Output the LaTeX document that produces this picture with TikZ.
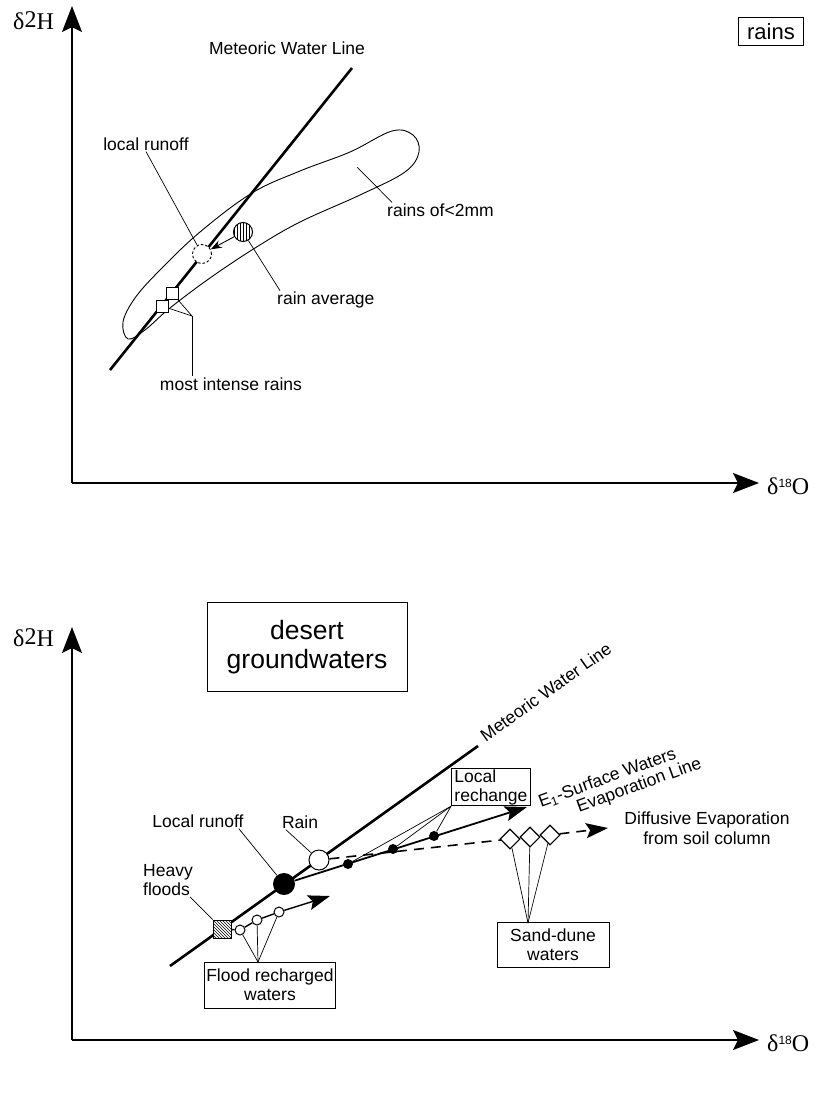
\documentclass[tikz,border=0pt]{standalone}
\usepackage{fontspec}
\setmainfont{Liberation Sans}
\newfontfamily\serifgreek{Liberation Serif}
\usetikzlibrary{arrows.meta,patterns,shapes.geometric}

\tikzset{
  axis/.style={line width=1.8pt, -{Stealth[length=26pt,width=20pt,inset=5pt]}},
  mwl/.style={line width=2.6pt},
  leader/.style={line width=0.7pt},
  lbl/.style={font=\fontsize{17.5}{19}\selectfont, inner sep=1pt},
  tag/.style={draw, line width=0.9pt, font=\fontsize{17.5}{19}\selectfont, align=center, inner sep=2pt},
  blackdot/.style={circle, fill=black, minimum size=10pt, inner sep=0pt},
  opendot/.style={circle, draw, line width=1pt, fill=white, minimum size=10pt, inner sep=0pt},
  dunemark/.style={diamond, draw, line width=1.1pt, fill=white, minimum size=20pt, inner sep=0pt},
  rainsq/.style={rectangle, draw, line width=1pt, fill=white, minimum size=12pt, inner sep=0pt},
  evap/.style={line width=1.8pt, -{Stealth[length=22pt,width=15pt,inset=4pt]}},
}

\begin{document}
\begin{tikzpicture}[x=1pt, y=-1pt]
\useasboundingbox (0,0) rectangle (823,1097);

% upper panel: rains
\coordinate (o1) at (72,483);
\coordinate (ytip1) at (72,6);
\coordinate (xtip1) at (759,483);
\draw[axis] (o1) -- (ytip1);
\draw[axis] (o1) -- (xtip1);
\node[anchor=west, inner sep=0pt, font=\fontsize{24}{24}\serifgreek] (dH1) at (13,21) {δ\raisebox{2pt}{2}H};
\node[anchor=west, inner sep=0pt, font=\fontsize{24}{24}\serifgreek] (dO1) at (767,486) {δ\raisebox{7pt}{\fontsize{12}{12}\sffamily\bfseries\setmainfont{Liberation Sans}18}O};
\node[draw, line width=1pt, font=\fontsize{22}{22}\selectfont, inner xsep=9pt, minimum height=28pt] (rainsBox) at (771,32) {rains};

\draw[line width=0.9pt] plot[smooth cycle, tension=0.6] coordinates {(128,339) (123,322) (135,298) (160,270) (200,232) (252,193) (300,171) (350,152) (392,131) (413,135) (419,152) (405,172) (360,195) (300,222) (255,248) (210,278) (170,308) (145,330)};

\coordinate (mwl1a) at (110,370);
\coordinate (mwl1b) at (352,68);
\draw[mwl] (mwl1a) -- (mwl1b);
\node[lbl] (mwlLbl1) at (287,48) {Meteoric Water Line};

\node[rainsq] (sq1) at (172,293) {};
\node[rainsq] (sq2) at (162,306) {};
\node[circle, draw, fill=white, line width=0.9pt, dash pattern=on 2.5pt off 2pt, minimum size=19pt, inner sep=0pt] (runoff1) at (202,254) {};
\node[circle, draw, line width=1pt, minimum size=19pt, inner sep=0pt, pattern=vertical lines, preaction={fill=white}] (ravg) at (243,232) {};
\draw[line width=0.9pt, -{Stealth[length=11pt,width=8pt]}] (ravg) -- (runoff1);

\node[lbl] (runoffLbl1) at (146,144) {local runoff};
\draw[leader] (runoffLbl1.south) -- (runoff1);
\node[lbl, anchor=west] (avgLbl) at (276,300) {rain average};
\draw[leader] (ravg) -- ([xshift=4pt]avgLbl.north west);
\coordinate (smallIn) at (357,167);
\node[lbl, anchor=west] (smallLbl) at (386,210) {rains of<2mm};
\draw[leader] (smallIn) -- ([xshift=6pt]smallLbl.north west);
\coordinate (intJoin) at (192,316);
\node[lbl] (intLbl) at (231,384) {most intense rains};
\draw[leader] (sq1) -- (intJoin);
\draw[leader] (sq2) -- (intJoin);
\draw[leader] (intJoin) -- (intJoin |- intLbl.north);

% lower panel: desert groundwaters
\coordinate (o2) at (72,1040);
\coordinate (ytip2) at (72,627);
\coordinate (xtip2) at (759,1040);
\draw[axis] (o2) -- (ytip2);
\draw[axis] (o2) -- (xtip2);
\node[anchor=west, inner sep=0pt, font=\fontsize{24}{24}\serifgreek] (dH2) at (13,638) {δ\raisebox{2pt}{2}H};
\node[anchor=west, inner sep=0pt, font=\fontsize{24}{24}\serifgreek] (dO2) at (767,1043) {δ\raisebox{7pt}{\fontsize{12}{12}\sffamily\bfseries\setmainfont{Liberation Sans}18}O};
\node[draw, line width=1pt, minimum width=200pt, minimum height=89pt, align=center, font=\fontsize{26.5}{29}\selectfont] (desertBox) at (307,647) {desert\\groundwaters};

\coordinate (mwl2a) at (170,966);
\coordinate (mwl2b) at (478,746);
\draw[mwl] (mwl2a) -- (mwl2b);
\node[lbl, rotate=35.5, anchor=base west] (mwlLbl2) at (485,743) {Meteoric Water Line};

% evaporation lines
\coordinate (e1tip) at (527,807);
\coordinate (diftip) at (608,828);
\coordinate (floodtip) at (330,896);
\node[circle, fill=black, minimum size=22pt, inner sep=0pt] (runoff2) at (284,884) {};
\node[opendot, minimum size=20pt] (rain2) at (319,860) {};
\draw[evap] (runoff2) -- (e1tip);
\node[blackdot] (d1) at (348,864) {};
\node[blackdot] (d2) at (393,849) {};
\node[blackdot] (d3) at (434,836) {};
\draw[line width=1.6pt, dash pattern=on 10pt off 7pt] (rain2) -- (510,839);
\node[dunemark] (sand1) at (510,839) {};
\node[dunemark] (sand2) at (530,837) {};
\node[dunemark] (sand3) at (550,835) {};
\draw[evap, line width=1.6pt, dash pattern=on 10pt off 7pt] (sand3) -- (diftip);

\node[rectangle, draw, line width=1pt, minimum size=18pt, inner sep=0pt, pattern=north west lines, preaction={fill=white}] (flood) at (222,929) {};
\node[opendot] (f1) at (240,930) {};
\node[opendot] (f2) at (257,920) {};
\node[opendot] (f3) at (279,912) {};
\draw[line width=1.4pt] (flood) -- (f1) -- (f2) -- (f3);
\draw[evap, line width=1.4pt] (f3) -- (floodtip);

% labels and boxes
\node[tag, align=left, anchor=north west, inner xsep=3pt, inner ysep=1pt] (rechBox) at (451,768) {Local\\rechange};
\draw[leader] (rechBox.south west) -- (d1);
\draw[leader] (rechBox.south west) -- (d2);
\draw[leader] (rechBox.south west) -- (d3);
\node[lbl, rotate=20, anchor=base west] (e1Lbl) at (540,808) {E\textsubscript{1}-Surface Waters};
\node[lbl, rotate=20, anchor=base west] (e1Lbl2) at (578,813) {Evaporation Line};
\node[lbl, align=center, font=\fontsize{17.5}{20}\selectfont] (difLbl) at (707,828) {Diffusive Evaporation\\from soil column};

\node[lbl] (runoffLbl2) at (198,821) {Local runoff};
\draw[leader] ([xshift=-6pt]runoffLbl2.south east) -- (runoff2);
\node[lbl] (rainLbl2) at (300,822) {Rain};
\draw[leader] ([xshift=5pt]rainLbl2.south west) -- (rain2);
\node[lbl, align=left] (floodsLbl) at (168,880) {Heavy\\floods};
\draw[leader] ([xshift=-4pt]floodsLbl.south east) -- (flood);

\node[tag, minimum width=126pt, minimum height=46pt] (floodBox) at (270,985) {Flood recharged\\waters};
\coordinate (floodJoin) at (258,962);
\draw[leader] (f1) -- (floodJoin);
\draw[leader] (f2) -- (floodJoin);
\draw[leader] (f3) -- (floodJoin);

\node[tag, minimum width=112pt, minimum height=45pt] (sandBox) at (553,945) {Sand-dune\\waters};
\coordinate (sandJoin) at (528,923);
\draw[leader] (sand1) -- (sandJoin);
\draw[leader] (sand2) -- (sandJoin);
\draw[leader] (sand3) -- (sandJoin);
\end{tikzpicture}
\end{document}
